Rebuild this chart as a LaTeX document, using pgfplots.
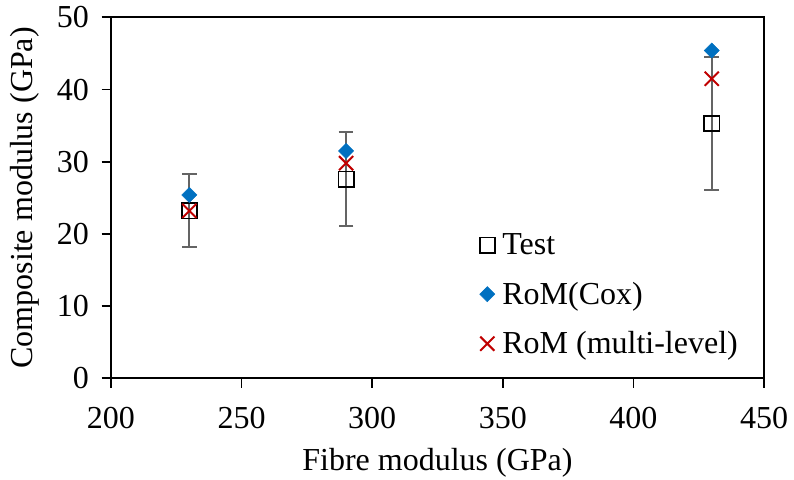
\documentclass[border=0pt]{standalone}
\usepackage{fontspec}
\setmainfont{Liberation Serif}
\usepackage{pgfplots}
\pgfplotsset{compat=1.18}
\definecolor{coxblue}{RGB}{0,112,192}
\definecolor{mlred}{RGB}{192,0,0}
\definecolor{bargray}{RGB}{100,100,100}
\begin{document}
\begin{tikzpicture}
\begin{axis}[
  at={(0,0)}, anchor=south west,
  scale only axis, width=489.75pt, height=270.75pt,
  xmin=200, xmax=450, ymin=0, ymax=50,
  xtick={200,250,...,450}, ytick={0,10,...,50},
  tick align=outside, xtick pos=bottom, ytick pos=left,
  major tick length=7pt,
  axis line style={line width=1.3pt},
  every tick/.style={black, line width=1.3pt},
  /pgf/number format/assume math mode=true,
  tick label style={font=\fontsize{24}{28}\selectfont},
  xticklabel style={yshift=-11pt},
  yticklabel style={xshift=-6pt},
  label style={font=\fontsize{24}{28}\selectfont},
  xlabel={Fibre modulus (GPa)},
  ylabel={Composite modulus (GPa)},
  xlabel style={at={([yshift=-63pt]axis description cs:0.5,0)}, anchor=center},
  ylabel style={at={([xshift=-64.5pt]axis description cs:0,0.5)}, anchor=center},
  legend style={draw=none, fill=none, at={(axis description cs:0.558,0.416)},
    anchor=north west, font=\fontsize{24}{28}\selectfont, row sep=15pt,
    nodes={inner sep=2pt},
    /tikz/every odd column/.append style={column sep=3.5pt}},
  legend cell align=left,
]
% Test results with scatter
\addplot[only marks, mark=square, mark size=5.75pt, mark options={black, line width=1.3pt},
  error bars/.cd, y dir=both, y explicit,
  error bar style={bargray, line width=1.5pt},
  error mark options={bargray, rotate=90, mark size=5.5pt, line width=1.5pt}]
  coordinates {
  (230,23.2) +- (0,5.05)
  (290,27.6) +- (0,6.45)
  (430,35.3) +- (0,9.15)
  };
\addlegendentry{Test}
% Rule of mixtures, Cox
\addplot[only marks, mark=square*, mark size=4pt, mark options={coxblue, fill=coxblue, rotate=45}]
  coordinates {(230,25.4) (290,31.5) (430,45.4)};
\addlegendentry{RoM(Cox)}
% Rule of mixtures, multi-level
\addplot[only marks, mark=x, mark size=7.5pt, mark options={mlred, line width=1.5pt}]
  coordinates {(230,23.2) (290,29.8) (430,41.5)};
\addlegendentry{RoM (multi-level)}
\end{axis}
\pgfresetboundingbox
\path[use as bounding box] (-83.25pt,-75.75pt) rectangle (512.25pt,283.75pt);
\end{tikzpicture}
\end{document}
